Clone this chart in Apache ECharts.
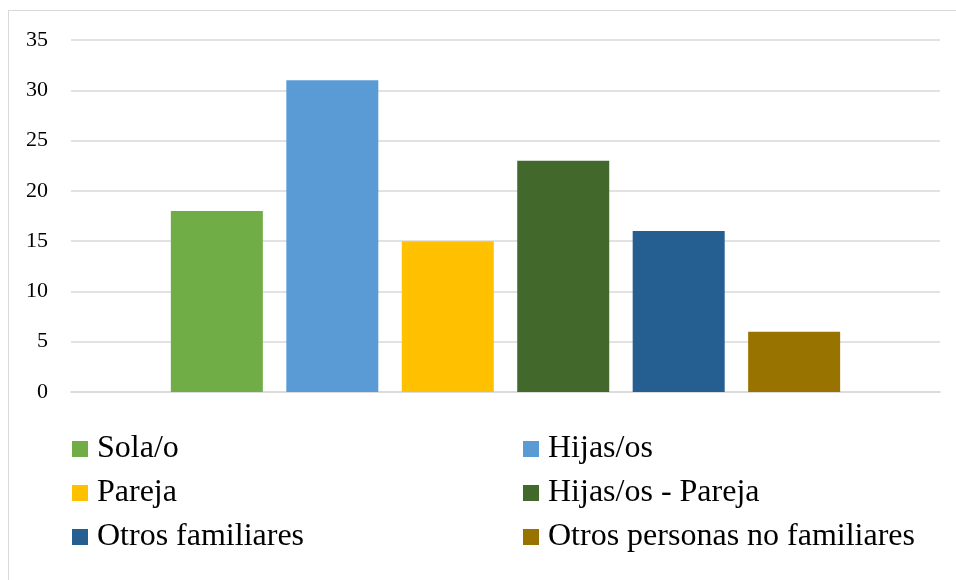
<!DOCTYPE html>
<html>
<head>
<meta charset="utf-8">
<script src="https://cdn.jsdelivr.net/npm/echarts@6/dist/echarts.min.js"></script>
<style>
html,body{margin:0;padding:0;background:#fff;}
#frame{position:absolute;left:8px;top:10px;width:960px;height:600px;border:1.5px solid #d9d9d9;box-sizing:border-box;}
#chart{position:absolute;left:0;top:0;width:956px;height:580px;}
</style>
</head>
<body>
<div id="frame"></div>
<div id="chart"></div>
<script>
const categories = [''];
const seriesNames = ['Sola/o', 'Hijas/os', 'Pareja', 'Hijas/os - Pareja', 'Otros familiares', 'Otros personas no familiares'];
const seriesValues = [18, 31, 15, 23, 16, 6];
const seriesColors = ['#70AD47', '#5B9BD5', '#FFC000', '#43682B', '#255E91', '#997300'];
const yTicks = { min: 0, max: 35, interval: 5 };

const font = '"Liberation Serif", "Times New Roman", serif';
const chart = echarts.init(document.getElementById('chart'));
const legendCommon = {
  orient: 'vertical',
  top: 432,
  padding: 0,
  itemWidth: 16,
  itemHeight: 16,
  itemGap: 10,
  icon: 'rect',
  selectedMode: false,
  textStyle: { fontFamily: font, fontSize: 32, color: '#000', lineHeight: 34, padding: [0, 0, 0, 4] }
};
chart.setOption({
  animation: false,
  grid: { left: 71, right: 16, top: 40, bottom: 188, containLabel: false },
  legend: [
    Object.assign({}, legendCommon, { left: 72, data: [seriesNames[0], seriesNames[2], seriesNames[4]] }),
    Object.assign({}, legendCommon, { left: 523, data: [seriesNames[1], seriesNames[3], seriesNames[5]] })
  ],
  xAxis: {
    type: 'category',
    data: categories,
    axisLine: { show: true, lineStyle: { color: '#d9d9d9', width: 1.5 } },
    axisTick: { show: false },
    axisLabel: { show: false }
  },
  yAxis: {
    type: 'value',
    min: yTicks.min, max: yTicks.max, interval: yTicks.interval,
    axisLine: { show: false },
    axisTick: { show: false },
    splitLine: { lineStyle: { color: '#d9d9d9', width: 1.5 } },
    axisLabel: { fontFamily: font, fontSize: 22, color: '#000', margin: 23 }
  },
  series: seriesNames.map((n, i) => ({
    name: n,
    type: 'bar',
    data: [seriesValues[i]],
    barWidth: 92,
    barGap: '25.5%',
    itemStyle: { color: seriesColors[i] }
  }))
});
</script>
</body>
</html>
